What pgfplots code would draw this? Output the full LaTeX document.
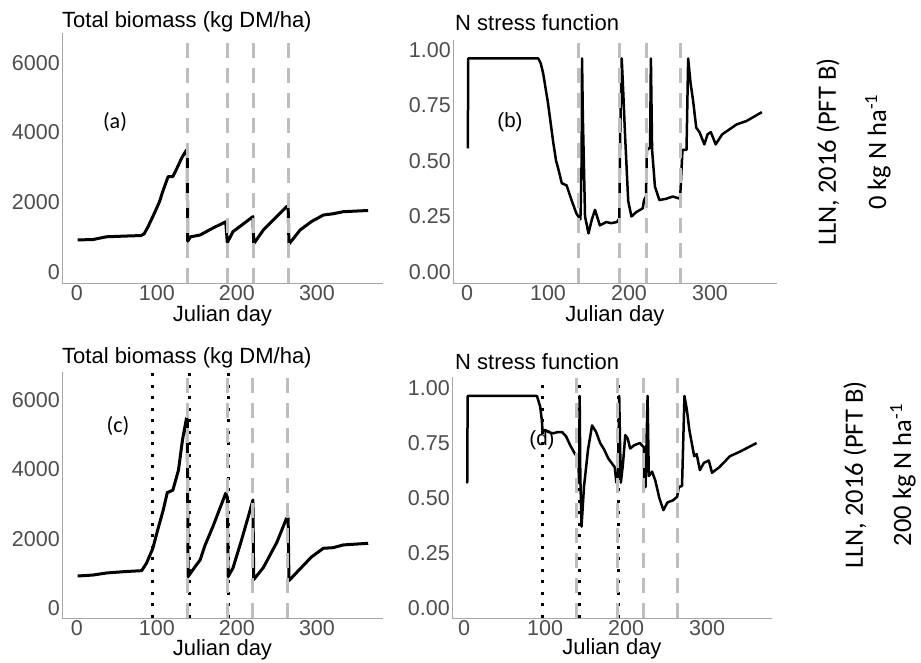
\documentclass[border=0pt]{standalone}
\usepackage{fontspec}
\setmainfont{Liberation Sans}
\newfontfamily\calibri{Carlito}
\usepackage{pgfplots}
\pgfplotsset{compat=1.18}

\definecolor{tickgray}{HTML}{4D4D4D}
\definecolor{axgray}{HTML}{A6A6A6}
\definecolor{vgray}{HTML}{BEBEBE}
\newcommand\fs[1]{\fontsize{#1}{#1}\selectfont}

\pgfplotsset{
  gg/.style={
    scale only axis,
    axis lines=left,
    axis line style={-, draw=axgray, line width=0.8pt},
    major tick length=0pt,
    tick style={draw=none},
    xmin=-18.5, xmax=382.5,
    xtick={0,100,200,300},
    xticklabels={0,100,200,300},
    scaled ticks=false,
    ticklabel style={font=\fs{21.5}, text=tickgray},
    xticklabel style={inner sep=2pt},
    yticklabel style={inner sep=2pt},
    xlabel={Julian day},
    xlabel style={font=\fs{22}, at={(axis description cs:0.5,0)}, anchor=base, yshift=-38.5pt},
    clip=false,
  },
  bio/.style={gg, ytick={0,2000,4000,6000}, yticklabels={0,2000,4000,6000}},
  nst/.style={gg, ytick={0,0.25,0.5,0.75,1}, yticklabels={0.00,0.25,0.50,0.75,1.00}},
  curve/.style={black, line width=3pt, line join=round, no markers},
  ncurve/.style={black, line width=2.5pt, line join=round, no markers},
  vl/.style={vgray, line width=3pt, dash pattern=on 15pt off 10pt, no markers},
  dl/.style={black, line width=3pt, dash pattern=on 3pt off 8.5pt, no markers},
}

\begin{document}
\begin{tikzpicture}
\path[use as bounding box] (0pt,0pt) rectangle (921pt,663pt);

% (a) biomass, 0 kg N
\begin{axis}[bio, at={(62pt,380pt)}, anchor=south west, width=321pt, height=250pt,
  ymin=-316, ymax=6858]
\addplot[curve] coordinates {
(1,920) (20,930) (37,1010) (60,1030) (80,1045) (84,1090) (89,1300) (97,1690)
(103,2000) (108,2350) (114,2735) (120,2740) (126,3020) (131,3270) (137,3500)
(138,3450) (138.5,880) (142,1010) (154,1060) (170,1260) (186,1440) (188,840)
(195,1155) (208,1380) (220,1590) (221,810) (233,1205) (262,1875) (264,1880)
(265,800) (279,1205) (293,1445) (308,1635) (320,1670) (333,1730) (364,1765)
};
\addplot[vl] coordinates {(138,-316) (138,6858)};
\addplot[vl] coordinates {(188,-316) (188,6858)};
\addplot[vl] coordinates {(221,-316) (221,6858)};
\addplot[vl] coordinates {(265,-316) (265,6858)};
\end{axis}

% (b) N stress, 0 kg N
\begin{axis}[nst, at={(453pt,380pt)}, anchor=south west, width=324pt, height=243pt,
  xmin=-17.3, xmax=382.7, ymin=-0.0495, ymax=1.045]
\addplot[ncurve] coordinates {
(1,0.557) (1.5,0.962) (88,0.962) (91,0.94) (94,0.895) (100,0.76) (106.6,0.58)
(110,0.50) (113,0.46) (117,0.40) (123,0.39) (129,0.324) (135,0.264) (140,0.237)
(141.5,0.5) (142,0.962) (143,0.7) (145.7,0.25) (150,0.174) (154,0.235) (158,0.28)
(164,0.21) (172,0.225) (178,0.22) (185,0.225) (188,0.24) (189,0.6) (191,0.962)
(193,0.8) (195,0.625) (199,0.32) (203,0.25) (209,0.27) (217,0.287) (218.5,0.324)
(221,0.34) (222,0.55) (226,0.56) (227,0.962) (228.5,0.55) (232,0.385) (237.5,0.324)
(246,0.33) (254,0.34) (263,0.33) (264,0.4) (266,0.55) (271,0.55) (273,0.962)
(276,0.85) (279,0.775) (283,0.65) (287,0.63) (293,0.575) (297,0.62) (301,0.63)
(307,0.575) (315,0.62) (333,0.665) (345,0.68) (364,0.72)
};
\addplot[vl] coordinates {(138,-0.0495) (138,1.045)};
\addplot[vl] coordinates {(188,-0.0495) (188,1.045)};
\addplot[vl] coordinates {(221,-0.0495) (221,1.045)};
\addplot[vl] coordinates {(264,-0.0495) (264,1.045)};
\end{axis}

% (c) biomass, 200 kg N
\begin{axis}[bio, at={(62pt,45pt)}, anchor=south west, width=321pt, height=246pt,
  ymin=-289, ymax=6811, xlabel style={yshift=1pt}]
\addplot[curve] coordinates {
(1,923) (20,950) (37,1010) (60,1050) (81,1077) (87,1290) (95,1723) (101,2250)
(108,2830) (113,3330) (120,3400) (127,3980) (132,4850) (137,5475) (138,5450)
(139,905) (148,1200) (154,1385) (160,1800) (170,2350) (180,2950) (186,3310)
(188,3200) (189,905) (195,1150) (205,1900) (215,2700) (220,3117) (221,820)
(233,1165) (250,1900) (262,2590) (264,2600) (265,790) (279,1130) (293,1470)
(308,1723) (320,1740) (333,1820) (364,1867)
};
\addplot[dl] coordinates {(95,-289) (95,6811)};
\addplot[dl] coordinates {(141,-289) (141,6811)};
\addplot[dl] coordinates {(190,-289) (190,6811)};
\addplot[vl] coordinates {(138,-289) (138,6811)};
\addplot[vl] coordinates {(188,-289) (188,6811)};
\addplot[vl] coordinates {(220,-289) (220,6811)};
\addplot[vl] coordinates {(263,-289) (263,6811)};
\end{axis}

% (d) N stress, 200 kg N
\begin{axis}[nst, at={(452pt,45pt)}, anchor=south west, width=320pt, height=241pt,
  xmin=-14.8, xmax=380, ymin=-0.045, ymax=1.05, xlabel style={yshift=2pt}]
\addplot[ncurve] coordinates {
(4,0.567) (4.5,0.964) (90,0.964) (94,0.915) (96,0.855) (97,0.80) (100,0.81)
(104,0.80) (110,0.794) (116,0.80) (121,0.80) (126,0.78) (131,0.74) (137,0.70)
(141,0.68) (142,0.567) (142.7,0.964) (143.5,0.6) (145,0.37) (148,0.55) (153,0.72)
(158,0.83) (163,0.80) (168,0.75) (173,0.72) (178,0.68) (186,0.64) (188,0.57)
(190,0.6) (191.5,0.964) (192.5,0.75) (193.5,0.57) (196,0.65) (199,0.786)
(202,0.77) (205,0.725) (210,0.74) (217,0.75) (222,0.73) (222.5,0.55) (224,0.55)
(226.5,0.964) (228,0.6) (232,0.62) (236,0.58) (241,0.50) (246,0.445) (251,0.48)
(258,0.49) (263,0.506) (265,0.55) (269,0.555) (272,0.964) (275,0.9) (278,0.81)
(284,0.69) (287,0.70) (291,0.627) (296,0.66) (302,0.67) (306,0.615) (315,0.64)
(328,0.69) (340,0.71) (361,0.75)
};
\addplot[dl] coordinates {(97,-0.045) (97,1.05)};
\addplot[dl] coordinates {(143,-0.045) (143,1.05)};
\addplot[dl] coordinates {(191,-0.045) (191,1.05)};
\addplot[vl] coordinates {(139,-0.045) (139,1.05)};
\addplot[vl] coordinates {(189,-0.045) (189,1.05)};
\addplot[vl] coordinates {(221,-0.045) (221,1.05)};
\addplot[vl] coordinates {(263,-0.045) (263,1.05)};
\end{axis}

% titles
\node[anchor=base west, inner sep=0pt, font=\fs{22}] at (62pt,635.5pt) {Total biomass (kg DM/ha)};
\node[anchor=base west, inner sep=0pt, font=\fs{22}] at (455pt,632.3pt) {N stress function};
\node[anchor=base west, inner sep=0pt, font=\fs{22}] at (62pt,299.7pt) {Total biomass (kg DM/ha)};
\node[anchor=base west, inner sep=0pt, font=\fs{22}] at (455pt,293.7pt) {N stress function};

% panel labels
\node[font=\calibri\fs{22}] at (115pt,541pt) {(a)};
\node[font=\fs{20.5}] at (510pt,541pt) {(b)};
\node[font=\calibri\fs{22}] at (118pt,237pt) {(c)};
\node[font=\fs{20.5}] at (542pt,223pt) {(d)};

% strip labels on the right
\node[rotate=90, font=\calibri\fs{26.5}] at (828pt,511pt) {LLN, 2016 (PFT B)};
\node[rotate=90, font=\calibri\fs{26.5}] at (878pt,511pt) {0 kg N ha\textsuperscript{-1}};
\node[rotate=90, font=\calibri\fs{26.5}] at (855pt,188pt) {LLN, 2016 (PFT B)};
\node[rotate=90, font=\calibri\fs{26.5}] at (903pt,188pt) {200 kg N ha\textsuperscript{-1}};
\end{tikzpicture}
\end{document}
